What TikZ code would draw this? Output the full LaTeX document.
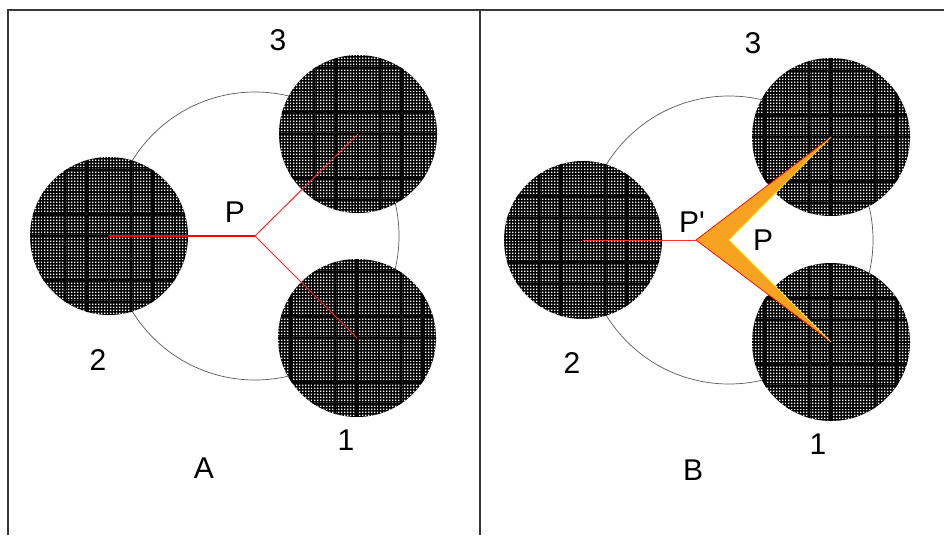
\documentclass[tikz,border=0pt]{standalone}
\usepackage{fontspec}
\setmainfont{Liberation Sans}
\usetikzlibrary{patterns,calc}
\definecolor{wedgeorange}{RGB}{247,162,32}
\pgfdeclarepatternformonly{dotgrid}{\pgfqpoint{-1pt}{-1pt}}{\pgfqpoint{2pt}{2pt}}{\pgfqpoint{3pt}{3pt}}{%
  \pgfpathrectangle{\pgfqpoint{-0.75pt}{-0.75pt}}{\pgfqpoint{1.5pt}{1.5pt}}\pgfusepath{fill}}
\tikzset{
  frame/.style={draw=black!78, line width=1.6pt},
  rim/.style={draw=black!65, line width=0.7pt},
  disc/.style={fill=black},
  dots/.style={pattern=dotgrid, pattern color=white},
  blocks/.style={draw=black, line width=2.4pt, step=22pt},
  spoke/.style={draw=red, line width=1pt},
  wedge/.style={fill=wedgeorange},
  lbl/.style={font=\fontsize{30}{32}\selectfont, inner sep=0pt}
}

\begin{document}
\begin{tikzpicture}[x=1pt,y=-1pt]
  \useasboundingbox (0,0) rectangle (944,535);
  \draw[frame] (8,535) -- (8,10) -- (944,10);
  \draw[frame] (480,10) -- (480,535);
  % panel A
  \coordinate (AP) at (255,236);
  \coordinate (A1) at (357,338);
  \coordinate (A2) at (109,236);
  \coordinate (A3) at (358,134);
  % panel B
  \coordinate (BP) at (729,240);
  \coordinate (BQ) at (696,240);
  \coordinate (B1) at (831,342);
  \coordinate (B2) at (583,240);
  \coordinate (B3) at (831,137);
  \draw[rim] (AP) circle[radius=144];
  \draw[rim] (BP) circle[radius=144];
  \foreach \c in {A1,A2,A3,B1,B2,B3}{
    \fill[disc] (\c) circle[radius=79];
    \fill[dots] (\c) circle[radius=79];
    \begin{scope}
      \clip (\c) circle[radius=79];
      \draw[blocks, shift={(\c)}] (-88pt,-88pt) grid (88pt,88pt);
    \end{scope}
  }
  \draw[spoke, line width=1.4pt] (A2) -- (AP);
  \foreach \c in {A1,A3} \draw[spoke, red!85] (\c) -- (AP);
  \draw[spoke, red!80, line width=0.8pt] (B2) -- (BQ);
  \fill[wedge] (BQ) -- (B3) -- (BP) -- (B1) -- cycle;
  \draw[red, line width=0.7pt] (B3) -- (BQ) -- (B1);
  \draw[yellow, line width=0.7pt] (B3) -- (BP) -- (B1);
  % labels
  \node[lbl] (a3) at (278,40) {3};
  \node[lbl] (a2) at (98,360) {2};
  \node[lbl] (a1) at (346,440) {1};
  \node[lbl] (ap) at (235,212) {P};
  \node[lbl] (aa) at (204,468) {A};
  \node[lbl] (b3) at (753,43) {3};
  \node[lbl] (b2) at (572,363) {2};
  \node[lbl] (b1) at (818,444) {1};
  \node[lbl] (bq) at (692,222) {P\textquotesingle};
  \node[lbl] (bp) at (763,240) {P};
  \node[lbl] (bb) at (693,470) {B};
\end{tikzpicture}
\end{document}
